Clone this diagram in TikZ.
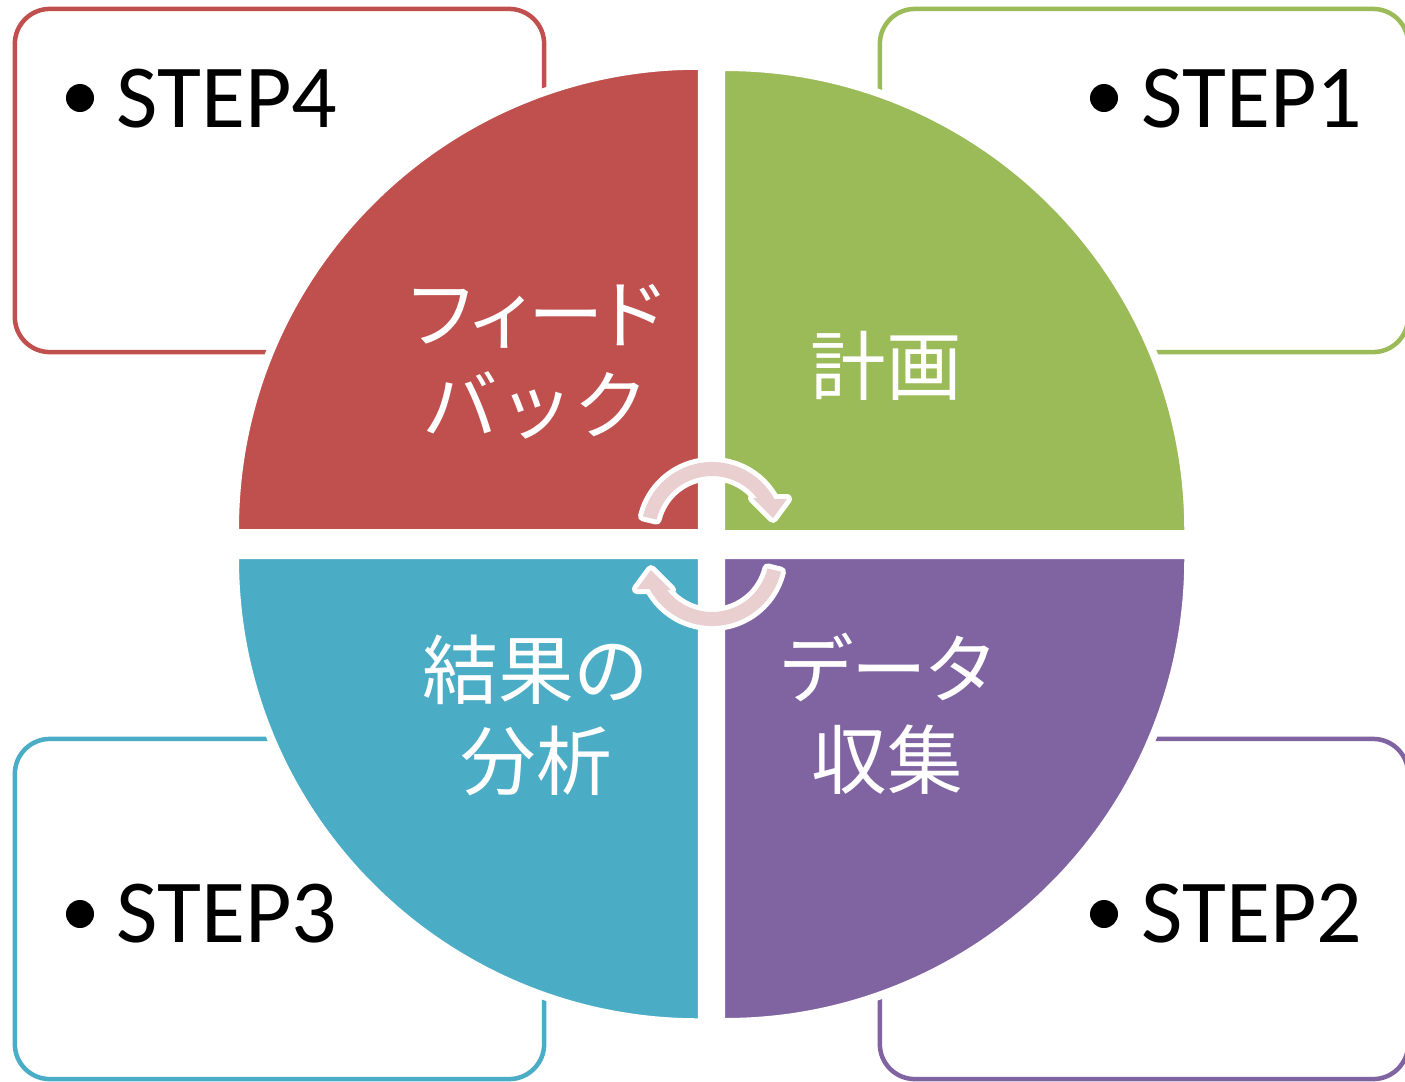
\documentclass[tikz,border=0pt]{standalone}
\usepackage{fontspec}
\setmainfont{Carlito}
\newfontfamily\jpfont{Noto Sans CJK JP}
\newfontfamily\jppfont[RawFeature=+palt]{Noto Sans CJK JP}
\definecolor{qred}{HTML}{C0504D}
\definecolor{qgreen}{HTML}{9BBB59}
\definecolor{qblue}{HTML}{4BACC6}
\definecolor{qpurple}{HTML}{8064A2}
\definecolor{arrowpink}{RGB}{233,207,208}
\begin{document}
\begin{tikzpicture}[x=0.01cm,y=0.01cm,
  stepbox/.style={draw=#1, line width=1.28pt, rounded corners=0.35cm, rectangle, inner sep=0pt, fill=white},
  steptext/.style={anchor=base west, inner sep=0pt, font=\fontsize{25.6pt}{30pt}\selectfont, text=black},
  bulletdot/.style={circle, fill=black, inner sep=0pt, minimum size=0.28cm},
  quad/.style={fill=#1, draw=white, line width=2.28pt},
  qlabel/.style={text=white, align=center, inner sep=0pt, font=\jpfont\fontsize{21.5pt}{25.9pt}\selectfont},
  arrowedge/.style={draw=white, line width=0.1cm, line join=round},
  arrowbody/.style={fill=arrowpink},
]
\useasboundingbox (0,0) rectangle (1405,-1081);

% step boxes
\node[stepbox=qred, minimum width=5.29cm, minimum height=3.43cm] (box4) at (279.5,-180.5) {};
\node[stepbox=qgreen, minimum width=5.28cm, minimum height=3.43cm] (box1) at (1144,-180.5) {};
\node[stepbox=qblue, minimum width=5.29cm, minimum height=3.40cm] (box3) at (279.5,-909) {};
\node[stepbox=qpurple, minimum width=5.28cm, minimum height=3.40cm] (box2) at (1144,-909) {};

% quadrants
\begin{scope}[shift={(698,-529)}]
\path[quad=qred] (4,-4) -- (-463,-4) -- (-463,0) arc[start angle=180,end angle=90,radius=4.63cm] -- (4,463) -- cycle;
\end{scope}
\begin{scope}[shift={(725,-530)}]
\path[quad=qgreen] (-4,-4) -- (-4,463) -- (0,463) arc[start angle=90,end angle=0,radius=4.63cm] -- (463,-4) -- cycle;
\end{scope}
\begin{scope}[shift={(698,-559)}]
\path[quad=qblue] (4,4) -- (-463,4) -- (-463,0) arc[start angle=180,end angle=270,radius=4.63cm] -- (4,-463) -- cycle;
\end{scope}
\begin{scope}[shift={(725,-559)}]
\path[quad=qpurple] (-4,4) -- (-4,-463) -- (0,-463) arc[start angle=270,end angle=360,radius=4.63cm] -- (463,4) -- cycle;
\end{scope}

% labels
\node[qlabel] (lfeed) at (536,-362) {{\jppfont フィード}\\バック};
\node[qlabel] (lplan) at (886,-366) {計画};
\node[qlabel] (ldata) at (887,-714) {{\jppfont データ}\\収集};
\node[qlabel] (lanal) at (536,-715) {結果の\\分析};

% circular arrows
\begin{scope}[shift={(712,-533)}]
\path[arrowedge] (166.4:71) arc[start angle=166.4,end angle=28.6,radius=0.71cm] -- (75,34) -- (61,15) -- (41,35) -- (37.9:57) arc[start angle=37.9,end angle=166.4,radius=0.57cm] -- cycle;
\path[arrowbody] (166.4:71) arc[start angle=166.4,end angle=28.6,radius=0.71cm] -- (75,34) -- (61,15) -- (41,35) -- (37.9:57) arc[start angle=37.9,end angle=166.4,radius=0.57cm] -- cycle;
\end{scope}
\begin{scope}[shift={(712,-555)}, rotate=180]
\path[arrowedge] (166.4:71) arc[start angle=166.4,end angle=28.6,radius=0.71cm] -- (75,34) -- (61,15) -- (41,35) -- (37.9:57) arc[start angle=37.9,end angle=166.4,radius=0.57cm] -- cycle;
\path[arrowbody] (166.4:71) arc[start angle=166.4,end angle=28.6,radius=0.71cm] -- (75,34) -- (61,15) -- (41,35) -- (37.9:57) arc[start angle=37.9,end angle=166.4,radius=0.57cm] -- cycle;
\end{scope}

% step texts
\node[bulletdot] (b4) at (80,-98) {};
\node[steptext] (s4) at (116,-127) {STEP4};
\node[bulletdot] (b1) at (1104,-98) {};
\node[steptext] (s1) at (1141,-127) {STEP1};
\node[bulletdot] (b3) at (80,-914) {};
\node[steptext] (s3) at (116,-942) {STEP3};
\node[bulletdot] (b2) at (1104,-914) {};
\node[steptext] (s2) at (1141,-942) {STEP2};
\end{tikzpicture}
\end{document}
